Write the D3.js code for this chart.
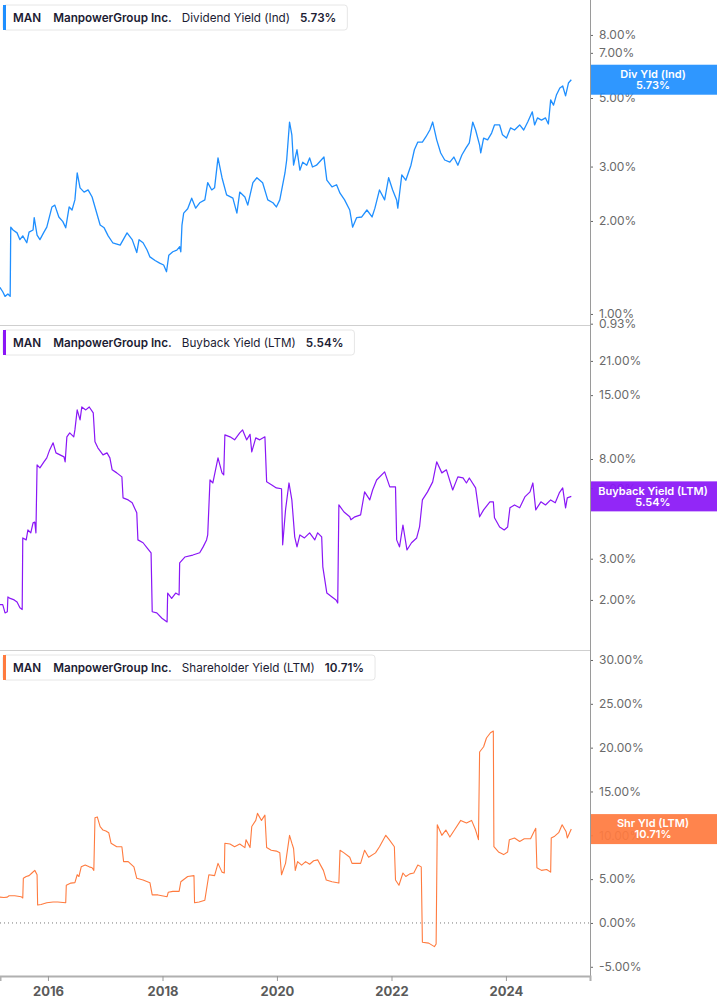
<!DOCTYPE html>
<html><head><meta charset="utf-8">
<script src="https://cdn.jsdelivr.net/npm/d3@7"></script>
<style>
html,body{margin:0;padding:0;background:#fff;}
svg{display:block;font-family:Inter,"Noto Sans",sans-serif;}
</style></head>
<body><svg id="c" width="717" height="1005"></svg>
<script>
// ---------------- DATA ----------------
const ticker = "MAN";
const company = "ManpowerGroup Inc.";

const divT = [2015.16,2015.21,2015.25,2015.30,2015.34,2015.35,2015.39,2015.46,2015.51,2015.56,2015.63,2015.67,2015.74,2015.76,2015.81,2015.86,2015.93,2015.98,2016.07,2016.12,2016.19,2016.26,2016.31,2016.37,2016.42,2016.47,2016.51,2016.56,2016.63,2016.70,2016.77,2016.82,2016.91,2016.98,2017.05,2017.13,2017.26,2017.38,2017.47,2017.55,2017.59,2017.66,2017.73,2017.78,2017.87,2017.95,2018.02,2018.07,2018.11,2018.18,2018.25,2018.30,2018.32,2018.34,2018.37,2018.44,2018.51,2018.58,2018.65,2018.74,2018.79,2018.86,2018.91,2018.97,2019.04,2019.12,2019.23,2019.30,2019.35,2019.44,2019.49,2019.58,2019.65,2019.75,2019.84,2019.93,2019.99,2020.05,2020.14,2020.17,2020.22,2020.26,2020.29,2020.35,2020.40,2020.45,2020.52,2020.57,2020.62,2020.69,2020.82,2020.87,2020.96,2021.04,2021.10,2021.18,2021.27,2021.32,2021.39,2021.48,2021.57,2021.66,2021.71,2021.79,2021.88,2021.95,2022.02,2022.09,2022.11,2022.18,2022.25,2022.34,2022.40,2022.46,2022.54,2022.60,2022.67,2022.72,2022.79,2022.86,2022.93,2023.02,2023.09,2023.16,2023.23,2023.30,2023.36,2023.42,2023.47,2023.54,2023.56,2023.61,2023.68,2023.75,2023.80,2023.89,2023.94,2024.01,2024.08,2024.15,2024.24,2024.31,2024.38,2024.46,2024.50,2024.55,2024.62,2024.69,2024.74,2024.78,2024.83,2024.88,2024.94,2024.99,2025.04,2025.09,2025.14];
const divV = [1.22,1.18,1.14,1.16,1.14,1.91,1.87,1.83,1.74,1.79,1.70,1.84,1.87,2.05,1.80,1.74,1.84,1.91,2.22,2.25,2.06,1.99,1.90,2.22,2.17,2.34,2.86,2.56,2.48,2.52,2.39,2.22,1.94,1.90,1.79,1.70,1.67,1.83,1.74,1.58,1.74,1.70,1.61,1.53,1.49,1.46,1.44,1.37,1.55,1.59,1.61,1.65,1.59,1.94,2.12,2.19,2.37,2.20,2.29,2.34,2.66,2.52,2.56,3.20,2.76,2.43,2.37,2.12,2.48,2.39,2.25,2.66,2.76,2.66,2.34,2.29,2.22,2.34,2.86,3.15,4.18,3.80,3.03,3.40,2.92,3.10,3.03,3.20,2.99,3.03,3.22,2.71,2.58,2.62,2.46,2.34,2.17,1.91,2.05,2.06,2.17,2.06,2.20,2.52,2.34,2.76,2.52,2.34,2.20,2.82,2.71,3.03,3.40,3.60,3.60,3.74,3.94,4.18,3.66,3.32,3.15,3.10,3.22,3.03,3.27,3.44,3.58,4.18,3.94,3.52,3.32,3.71,3.66,3.85,4.09,4.09,3.80,3.71,4.00,3.94,4.09,3.94,4.18,4.51,4.09,4.31,4.24,4.31,4.12,4.93,4.74,5.11,5.39,5.47,5.08,5.59,5.73];

const bbT = [2015.16,2015.21,2015.25,2015.29,2015.30,2015.34,2015.41,2015.46,2015.51,2015.55,2015.56,2015.62,2015.65,2015.70,2015.74,2015.77,2015.79,2015.81,2015.86,2015.93,2015.98,2016.03,2016.09,2016.14,2016.21,2016.28,2016.30,2016.33,2016.38,2016.45,2016.47,2016.51,2016.56,2016.59,2016.66,2016.72,2016.79,2016.82,2016.87,2016.96,2017.03,2017.08,2017.12,2017.20,2017.29,2017.31,2017.40,2017.47,2017.55,2017.57,2017.66,2017.73,2017.80,2017.82,2017.90,2017.99,2018.08,2018.09,2018.16,2018.23,2018.29,2018.30,2018.39,2018.53,2018.65,2018.71,2018.77,2018.79,2018.83,2018.88,2018.97,2019.04,2019.07,2019.09,2019.18,2019.26,2019.35,2019.40,2019.47,2019.53,2019.56,2019.63,2019.70,2019.79,2019.82,2019.91,2019.99,2020.08,2020.10,2020.15,2020.21,2020.26,2020.31,2020.35,2020.40,2020.48,2020.57,2020.66,2020.71,2020.78,2020.80,2020.87,2020.96,2021.03,2021.06,2021.08,2021.17,2021.27,2021.29,2021.36,2021.46,2021.53,2021.62,2021.67,2021.74,2021.88,2021.97,2022.07,2022.09,2022.14,2022.20,2022.27,2022.35,2022.44,2022.49,2022.54,2022.63,2022.72,2022.79,2022.88,2022.96,2023.07,2023.16,2023.25,2023.31,2023.36,2023.47,2023.54,2023.61,2023.72,2023.78,2023.80,2023.89,2023.97,2024.03,2024.07,2024.15,2024.24,2024.33,2024.42,2024.47,2024.52,2024.61,2024.69,2024.78,2024.86,2024.93,2024.99,2025.04,2025.07,2025.14];
const bbV = [1.91,1.91,1.76,1.78,2.06,2.03,2.00,1.96,1.85,1.82,3.68,3.61,3.98,3.87,4.27,4.30,3.87,7.55,7.33,7.78,8.09,8.75,9.38,8.50,8.33,8.17,7.78,9.95,10.34,9.95,10.65,12.97,11.75,13.35,12.97,13.35,12.59,9.47,8.93,8.33,8.50,8.09,7.19,6.98,6.71,5.46,5.35,5.20,4.71,3.61,3.51,3.34,3.18,1.78,1.76,1.67,1.61,2.14,2.03,2.14,2.10,2.88,3.05,3.11,3.18,3.37,3.61,3.79,6.51,6.32,8.09,6.98,6.84,10.14,9.95,9.66,10.34,10.65,9.66,10.20,8.58,9.85,9.66,9.95,6.39,6.20,6.02,5.97,3.44,4.85,6.32,5.35,3.72,3.37,3.79,3.68,3.87,3.61,3.87,3.72,2.77,2.14,2.06,2.00,1.94,5.09,4.75,4.53,4.40,4.53,4.62,5.79,5.35,5.90,6.51,7.05,6.08,6.08,3.61,3.37,4.18,3.27,3.51,3.68,4.10,5.35,5.79,6.39,7.78,6.98,7.19,5.90,6.71,6.64,6.32,6.64,6.02,4.53,4.85,5.25,5.25,4.49,4.10,3.98,4.10,4.95,5.09,4.95,5.51,5.79,6.32,4.85,5.25,5.09,5.35,5.20,5.73,6.02,4.95,5.46,5.54];

const shT = [2015.16,2015.23,2015.29,2015.32,2015.42,2015.53,2015.56,2015.57,2015.62,2015.67,2015.72,2015.77,2015.81,2015.82,2015.88,2015.98,2016.09,2016.17,2016.31,2016.32,2016.40,2016.47,2016.51,2016.54,2016.58,2016.65,2016.72,2016.77,2016.80,2016.82,2016.86,2016.91,2016.96,2017.01,2017.06,2017.10,2017.20,2017.29,2017.32,2017.40,2017.50,2017.55,2017.66,2017.78,2017.82,2017.92,2018.08,2018.10,2018.18,2018.29,2018.32,2018.44,2018.55,2018.56,2018.64,2018.74,2018.81,2018.91,2018.97,2019.04,2019.08,2019.09,2019.18,2019.26,2019.35,2019.44,2019.46,2019.53,2019.56,2019.63,2019.66,2019.73,2019.79,2019.82,2019.90,2019.99,2020.05,2020.08,2020.15,2020.22,2020.26,2020.29,2020.32,2020.36,2020.43,2020.50,2020.57,2020.64,2020.71,2020.76,2020.81,2020.86,2020.96,2021.08,2021.10,2021.17,2021.27,2021.31,2021.46,2021.53,2021.60,2021.72,2021.79,2021.90,2021.96,2022.05,2022.07,2022.13,2022.20,2022.25,2022.32,2022.39,2022.46,2022.52,2022.54,2022.65,2022.75,2022.78,2022.80,2022.88,2022.95,2023.02,2023.10,2023.21,2023.31,2023.40,2023.47,2023.52,2023.54,2023.61,2023.66,2023.73,2023.78,2023.79,2023.87,2023.96,2024.03,2024.06,2024.15,2024.24,2024.32,2024.43,2024.48,2024.52,2024.54,2024.62,2024.71,2024.78,2024.79,2024.85,2024.92,2024.98,2025.05,2025.07,2025.14];
const shV = [2.95,2.9,2.95,3.1,3.1,3.0,2.85,5.1,5.3,5.4,5.7,6.0,5.5,2.05,2.1,2.3,2.4,2.4,2.3,4.3,4.55,4.6,5.5,5.3,6.4,6.6,6.4,6.3,6.0,12.0,12.1,11.0,10.6,10.5,10.3,9.1,8.7,8.7,7.0,7.0,6.4,5.1,4.9,4.6,3.2,3.2,3.0,3.5,3.6,3.6,4.7,5.3,5.4,2.3,2.4,2.6,5.5,5.4,6.8,5.8,5.7,9.1,9.0,8.7,9.0,8.6,9.5,8.6,11.0,11.7,12.5,11.7,12.3,8.6,8.3,8.2,8.0,5.5,6.8,10.0,9.1,8.5,6.0,7.0,6.6,7.0,6.7,7.1,7.2,6.6,6.0,4.9,4.7,4.55,8.3,8.0,7.5,6.8,6.8,8.3,7.5,8.0,8.7,10.0,9.5,8.7,4.9,4.3,5.7,5.3,5.6,5.7,6.6,6.4,-2.2,-2.3,-2.7,-2.4,11.2,10.0,10.6,9.8,10.6,11.7,11.4,11.7,10.6,9.5,19.5,20.1,21.1,21.7,21.9,8.7,8.1,7.8,8.1,9.5,9.7,9.3,9.6,9.6,10.3,10.8,6.3,6.0,6.1,5.8,9.7,9.9,10.3,11.2,10.4,9.7,10.71];

const divTicks = [8, 7, 5, 3, 2, 1, 0.93];
const bbTicks = [21, 15, 8, 6, 3, 2];
const shTicks = [30, 25, 20, 15, 10, 5, 0, -5];
const yearTicks = [2016, 2018, 2020, 2022, 2024];

const metricNames = ["Dividend Yield (Ind)", "Buyback Yield (LTM)", "Shareholder Yield (LTM)"];
const tagNames = ["Div Yld (Ind)", "Buyback Yield (LTM)", "Shr Yld (LTM)"];
const lastValues = [5.73, 5.54, 10.71];
const colors = ["#1f8fff", "#8a17f6", "#ff7b3f"];

// ---------------- HELPERS ----------------
function toDate(y) {
  const yr = Math.floor(y);
  const s = new Date(yr, 0, 1).getTime(), e = new Date(yr + 1, 0, 1).getTime();
  return new Date(s + (y - yr) * (e - s));
}
const fmt = v => v.toFixed(2) + "%";

const W = 717, plotR = 590;
const svg = d3.select("#c");

const x = d3.scaleTime().domain([toDate(2015.162), toDate(2025.467)]).range([0, plotR]);

const panels = [
  { top: 0, bottom: 325, y: d3.scaleLog().domain([0.921, 10.38]).range([325, 0]), T: divT, V: divV, ticks: divTicks, sw: 1.3 },
  { top: 325, bottom: 650, y: d3.scaleLog().domain([1.222, 29.9]).range([650, 325]), T: bbT, V: bbV, ticks: bbTicks, sw: 1.2 },
  { top: 650, bottom: 976, y: d3.scaleLinear().domain([-6.05, 31.14]).range([976, 650]), T: shT, V: shV, ticks: shTicks, sw: 1.1 }
];

const defs = svg.append("defs");
const FONT = "Inter, 'Noto Sans', sans-serif";

panels.forEach((p, i) => {
  const g = svg.append("g");
  const clipId = "clip" + i;
  defs.append("clipPath").attr("id", clipId).append("rect")
    .attr("x", 0).attr("y", p.top).attr("width", plotR).attr("height", p.bottom - p.top);

  if (i === 2) {
    g.append("line").attr("x1", 0).attr("x2", plotR)
      .attr("y1", p.y(0)).attr("y2", p.y(0))
      .attr("stroke", "#777").attr("stroke-width", 1).attr("stroke-dasharray", "1,3");
  }

  if (i > 0) {
    g.append("line").attr("x1", 0).attr("x2", plotR).attr("y1", p.top + 0.5).attr("y2", p.top + 0.5)
      .attr("stroke", "#cfcfcf").attr("stroke-width", 1);
  }

  const data = p.T.map((t, k) => ({ d: toDate(t), v: p.V[k] }));
  g.append("path").datum(data)
    .attr("clip-path", `url(#${clipId})`)
    .attr("fill", "none").attr("stroke", colors[i]).attr("stroke-width", p.sw)
    .attr("stroke-linejoin", "round")
    .attr("d", d3.line().x(d => x(d.d)).y(d => p.y(d.v)));

  const ax = g.append("g").attr("transform", `translate(${plotR},0)`)
    .call(d3.axisRight(p.y).tickValues(p.ticks).tickFormat(fmt).tickSize(3).tickPadding(6));
  ax.select(".domain").remove();
  ax.selectAll(".tick line").attr("stroke", "#666");
  ax.selectAll(".tick text").attr("fill", "#6a6a6a").attr("font-size", 12).attr("font-family", FONT);

  // legend
  const lg = g.append("g").attr("transform", `translate(3,${p.top + 5})`);
  const box = lg.append("rect").attr("x", 0).attr("y", 0).attr("height", 25).attr("rx", 3)
    .attr("fill", "#fff").attr("stroke", "#e6e6e6");
  lg.append("rect").attr("x", 0).attr("y", 0).attr("width", 3).attr("height", 25).attr("fill", colors[i]);
  const parts = [
    { t: ticker, w: 600, gap: 0 },
    { t: company, w: 600, gap: 12 },
    { t: metricNames[i], w: 400, gap: 10 },
    { t: fmt(lastValues[i]), w: 600, gap: 10 }
  ];
  let cx = 10;
  parts.forEach(pt => {
    cx += pt.gap;
    const tx = lg.append("text").attr("x", cx).attr("y", 13).attr("dy", "0.35em")
      .attr("font-size", 11.7).attr("font-weight", pt.w).attr("fill", "#1c1c33").text(pt.t);
    cx += tx.node().getComputedTextLength();
  });
  box.attr("width", cx + 11);

  // value tag
  const cy = p.y(lastValues[i]);
  const tag = g.append("g");
  tag.append("rect").attr("x", plotR).attr("y", cy - 15).attr("width", W - plotR).attr("height", 30)
    .attr("fill", colors[i]).attr("fill-opacity", 0.93);
  tag.append("text").attr("x", 653).attr("y", cy - 5.5).attr("dy", "0.35em").attr("text-anchor", "middle")
    .attr("fill", "#fff").attr("font-size", 11).attr("font-weight", 600).text(tagNames[i]);
  tag.append("text").attr("x", 653).attr("y", cy + 5.5).attr("dy", "0.35em").attr("text-anchor", "middle")
    .attr("fill", "#fff").attr("font-size", 11).attr("font-weight", 600).text(fmt(lastValues[i]));
});

svg.append("line").attr("x1", plotR + 0.5).attr("x2", plotR + 0.5).attr("y1", 0).attr("y2", 977)
  .attr("stroke", "#9a9a9a").attr("stroke-width", 1);

const xa = svg.append("g").attr("transform", "translate(0,976)")
  .call(d3.axisBottom(x).tickValues(yearTicks.map(y => toDate(y))).tickFormat(d3.timeFormat("%Y")).tickSize(5).tickPadding(6));
xa.select(".domain").attr("stroke", "#b0b0b0").attr("stroke-width", 2);
xa.selectAll(".tick line").attr("stroke", "#999");
xa.selectAll(".tick text").attr("fill", "#5a5a5a").attr("font-size", 13).attr("font-weight", 700).attr("font-family", FONT);
</script></body></html>
